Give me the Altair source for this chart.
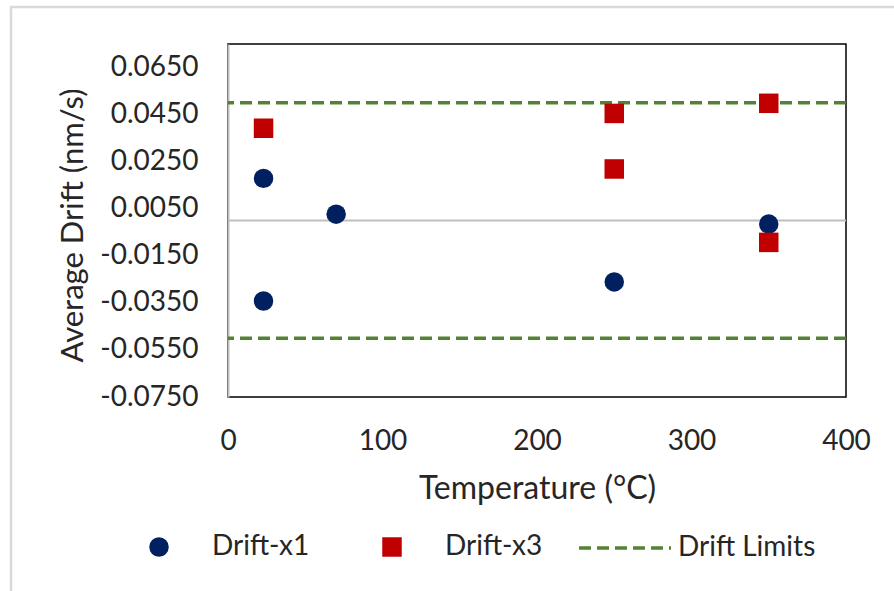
import altair as alt
import pandas as pd

# ---- data ----
x1_temp = [23, 23, 70, 250, 350]
x1_drift = [0.0179, -0.0342, 0.0027, -0.0261, -0.0015]
x3_temp = [23, 250, 250, 350, 350]
x3_drift = [0.0392, 0.0455, 0.0219, 0.0498, -0.0093]
limit_values = [0.05, -0.05]
series_names = ["Drift-x1", "Drift-x3"]
limit_name = "Drift Limits"
y_ticks = [-0.075, -0.055, -0.035, -0.015, 0.005, 0.025, 0.045, 0.065]
x_ticks = [0, 100, 200, 300, 400]

pts = pd.DataFrame({
    "temp": x1_temp + x3_temp,
    "drift": x1_drift + x3_drift,
    "series": [series_names[0]] * len(x1_temp) + [series_names[1]] * len(x3_temp),
})
lim = pd.DataFrame({"drift": limit_values, "limit": [limit_name] * len(limit_values)})
zero = pd.DataFrame({"drift": [0.0]})
frame = pd.DataFrame({"k": [0]})

FONT = "Lato"
TXT = "#262626"
NAVY = "#002060"
RED = "#C00000"
GREEN = "#548235"
GRAY = "#BFBFBF"

x_scale = alt.Scale(domain=[0, 400], nice=False, zero=False)
y_scale = alt.Scale(domain=[-0.075, 0.075], nice=False, zero=False)

x_enc = alt.X(
    "temp:Q", scale=x_scale,
    axis=alt.Axis(values=x_ticks, title="Temperature (°C)", grid=False, domain=False,
                  ticks=False, labelPadding=30, labelFlush=False, labelFontSize=28,
                  labelFont=FONT, labelColor=TXT, titleFontSize=32, titleFont=FONT,
                  titleColor=TXT, titleFontWeight="normal", titleX=309, titleY=101,
                  titleBaseline="alphabetic"),
)
y_enc = alt.Y(
    "drift:Q", scale=y_scale,
    axis=alt.Axis(values=y_ticks, labelExpr="replace(format(datum.value, '.4f'), '\u2212', '-')",
                  title="Average Drift (nm/s)", grid=False,
                  domain=True, domainColor=GRAY, domainWidth=2, ticks=False,
                  labelPadding=30, labelFlush=False, labelFontSize=28, labelFont=FONT,
                  labelColor=TXT, titleFontSize=31, titleFont=FONT, titleColor=TXT,
                  titleFontWeight="normal", titleX=-146, titleY=181,
                  titleBaseline="alphabetic", titleAngle=270),
)

pt_legend = alt.Legend(
    title=None, orient="none", legendX=-83, legendY=489, direction="horizontal",
    symbolSize=380, labelOffset=39, columnPadding=68, labelFontSize=28,
    labelFont=FONT, labelColor=TXT, padding=0, symbolOpacity=1, symbolStrokeWidth=0,
)

points = alt.Chart(pts).mark_point(filled=True, size=380, opacity=1).encode(
    x=x_enc,
    y=y_enc,
    color=alt.Color("series:N", scale=alt.Scale(domain=series_names, range=[NAVY, RED]),
                    legend=pt_legend),
    shape=alt.Shape("series:N", scale=alt.Scale(domain=series_names, range=["circle", "square"]),
                    legend=pt_legend),
)

zero_line = alt.Chart(zero).mark_rule(color=GRAY, strokeWidth=2).encode(
    y=alt.Y("drift:Q", scale=y_scale)
)

limits = alt.Chart(lim).mark_rule(color=GREEN, strokeWidth=3.5).encode(
    y=alt.Y("drift:Q", scale=y_scale),
    strokeDash=alt.StrokeDash(
        "limit:N", scale=alt.Scale(domain=[limit_name], range=[[12, 6]]),
        legend=alt.Legend(title=None, orient="none", legendX=349, legendY=456,
                          direction="horizontal", symbolType="stroke", symbolSize=8464,
                          symbolStrokeWidth=3.5, symbolStrokeColor=GREEN, labelOffset=5,
                          labelFontSize=28, labelFont=FONT, labelColor=TXT, padding=0),
    ),
)

frame_v = alt.Chart(frame).mark_rule(color="#D9D9D9", strokeWidth=2.5).encode(
    x=alt.value(-217), y=alt.value(-37), y2=alt.value(547)
)
frame_h = alt.Chart(frame).mark_rule(color="#D9D9D9", strokeWidth=2.5).encode(
    x=alt.value(-218), x2=alt.value(666), y=alt.value(-37)
)

chart = alt.layer(frame_v, frame_h, zero_line, limits, points).properties(
    width=618, height=353,
    autosize=alt.AutoSizeParams(type="none"),
    padding={"left": 228, "top": 44, "right": 48, "bottom": 194},
    background="white",
).configure_view(stroke="#000000", strokeWidth=1.5)

chart.save("out.html", embed_options={"renderer": "svg", "actions": False})
